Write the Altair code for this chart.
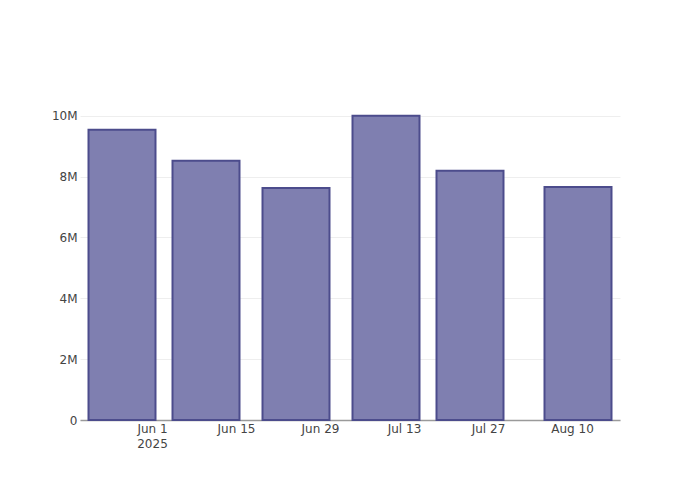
import altair as alt
import pandas as pd

dates = ["2025-05-27T00:00:00", "2025-06-10T00:00:00", "2025-06-25T00:00:00",
         "2025-07-10T00:00:00", "2025-07-24T00:00:00", "2025-08-11T00:00:00"]
values = [9.54e6, 8.52e6, 7.63e6, 10.0e6, 8.19e6, 7.66e6]
x_ticks = [(6, 1), (6, 15), (6, 29), (7, 13), (7, 27), (8, 10)]
y_ticks = [0, 2e6, 4e6, 6e6, 8e6, 10e6]

df = pd.DataFrame({"date": dates, "value": values})

x_axis = alt.Axis(
    title=None,
    values=[alt.DateTime(year=2025, month=m, date=d) for m, d in x_ticks],
    labelExpr="month(datum.value)==5 && date(datum.value)==1 ? [timeFormat(datum.value,'%b %-d'), '2025'] : timeFormat(datum.value,'%b %-d')",
    grid=False,
    ticks=False,
    domain=True,
    domainColor="#9a9a9a",
    domainWidth=1.5,
    labelFont="DejaVu Sans",
    labelFontSize=12,
    labelColor="#444444",
    labelPadding=3,
    labelLineHeight=15,
    labelBaseline="top",
)

y_axis = alt.Axis(
    title=None,
    values=y_ticks,
    labelExpr="datum.value == 0 ? '0' : format(datum.value, '~s')",
    grid=True,
    gridColor="#eeeeee",
    gridWidth=1,
    ticks=False,
    domain=False,
    labelFont="DejaVu Sans",
    labelFontSize=12,
    labelColor="#444444",
    labelPadding=3,
)

chart = alt.Chart(df).mark_bar(
    size=67,
    fill="#7f7fb0",
    stroke="#4c4c8c",
    strokeWidth=2,
).encode(
    x=alt.X("date:T", axis=x_axis,
            scale=alt.Scale(domain=[alt.DateTime(year=2025, month=5, date=20),
                                    alt.DateTime(year=2025, month=8, date=18)],
                            nice=False, padding=0)),
    y=alt.Y("value:Q", axis=y_axis, scale=alt.Scale(domain=[0, 10.52e6], nice=False, zero=True, padding=0)),
).properties(
    width=540,
    height=320,
    autosize=alt.AutoSizeParams(type="none"),
    padding={"left": 72, "top": 92, "right": 72, "bottom": 72},
).configure_view(
    stroke=None
)

chart.save("out.html", embed_options={"renderer": "svg", "actions": False})
